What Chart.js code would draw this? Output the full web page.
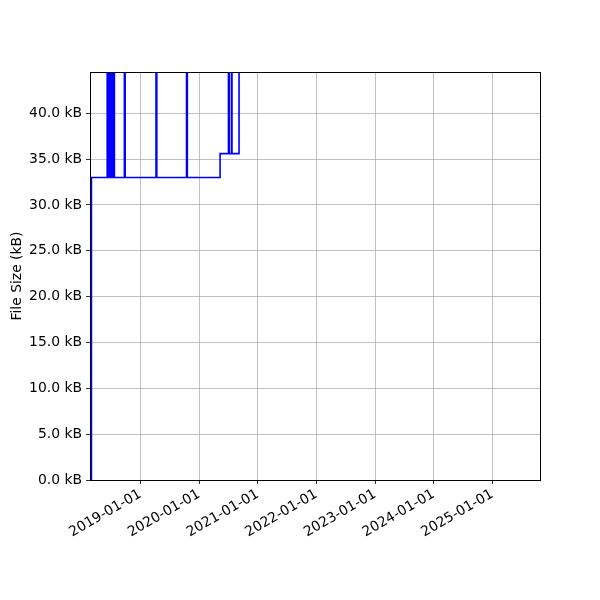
<!DOCTYPE html>
<html>
<head>
<meta charset="utf-8">
<script src="https://cdn.jsdelivr.net/npm/chart.js@4/dist/chart.umd.min.js"></script>
<style>
  html, body { margin: 0; padding: 0; background: #fff; }
  #wrap { width: 600px; height: 600px; }
</style>
</head>
<body>
<div id="wrap"><canvas id="sizeChart" width="600" height="600"></canvas></div>
<script>
// file size history (value holds from its date until the next one)
const commitDates = [
    '2018-03-01', '2018-03-02',
    '2018-06-08', '2018-06-13', '2018-06-22', '2018-06-26', '2018-07-01',
    '2018-07-06', '2018-07-11', '2018-07-15', '2018-07-18', '2018-07-23',
    '2018-09-23', '2018-09-28',
    '2019-04-08', '2019-04-13',
    '2019-10-15', '2019-10-20',
    '2020-05-11',
    '2020-07-02', '2020-07-09', '2020-07-23', '2020-07-24',
    '2020-09-06'
];
const fileSizeKB = [
    0, 33.0,
    60, 33.0, 60, 33.0, 60,
    33.0, 60, 33.0, 60, 33.0,
    60, 33.0,
    60, 33.0,
    60, 33.0,
    35.6,
    60, 35.6, 60, 35.6,
    60
];

const xRange = ['2018-02-21', '2025-10-24'];
const xTickLabels = ['2019-01-01', '2020-01-01', '2021-01-01', '2022-01-01', '2023-01-01', '2024-01-01', '2025-01-01'];
const yTicks = [0, 5, 10, 15, 20, 25, 30, 35, 40];
const yMax = 44.5;

function toMs(s) { return Date.parse(s + 'T00:00:00Z'); }

const points = commitDates.map(function(d, i) { return { x: toMs(d), y: fileSizeKB[i] }; });

const font = { family: 'DejaVu Sans', size: 13.9 };

// black box round the plot area, like the matplotlib spines
const boxPlugin = {
    id: 'box',
    afterDraw(chart) {
        const a = chart.chartArea;
        const c = chart.ctx;
        c.save();
        c.strokeStyle = '#000';
        c.lineWidth = 1;
        c.strokeRect(Math.round(a.left) + 0.5, Math.round(a.top) + 0.5, Math.round(a.right - a.left), Math.round(a.bottom - a.top));
        c.restore();
    }
};

new Chart(document.getElementById('sizeChart').getContext('2d'), {
    type: 'line',
    data: {
        datasets: [{
            data: points,
            borderColor: '#0000ff',
            borderWidth: 1.6,
            pointRadius: 0,
            fill: false,
            stepped: 'before'
        }]
    },
    options: {
        responsive: false,
        animation: false,
        layout: { padding: { top: 72, right: 60, left: 0, bottom: 0 } },
        plugins: { legend: { display: false }, tooltip: { enabled: false } },
        scales: {
            x: {
                type: 'linear',
                min: toMs(xRange[0]),
                max: toMs(xRange[1]),
                afterBuildTicks: function(scale) {
                    scale.ticks = xTickLabels.map(function(s) { return { value: toMs(s) }; });
                },
                afterFit: function(scale) { scale.height = 120; },
                grid: { color: '#b0b0b0', lineWidth: 0.8, tickColor: '#000', tickLength: 4, drawOnChartArea: true },
                border: { color: '#000' },
                ticks: {
                    color: '#000',
                    font: font,
                    padding: 2,
                    minRotation: 30,
                    maxRotation: 30,
                    autoSkip: false,
                    callback: function(v) { return new Date(v).toISOString().slice(0, 10); }
                }
            },
            y: {
                min: 0,
                max: yMax,
                afterBuildTicks: function(scale) {
                    scale.ticks = yTicks.map(function(v) { return { value: v }; });
                },
                afterFit: function(scale) { scale.width = 90; },
                grid: { color: '#b0b0b0', lineWidth: 0.8, tickColor: '#000', tickLength: 4 },
                border: { color: '#000' },
                title: { display: true, text: 'File Size (kB)', color: '#000', font: font, padding: { top: 9, bottom: 0 } },
                ticks: {
                    color: '#000',
                    font: font,
                    padding: 4,
                    callback: function(v) { return v.toFixed(1) + ' kB'; }
                }
            }
        }
    },
    plugins: [boxPlugin]
});
</script>
</body>
</html>
